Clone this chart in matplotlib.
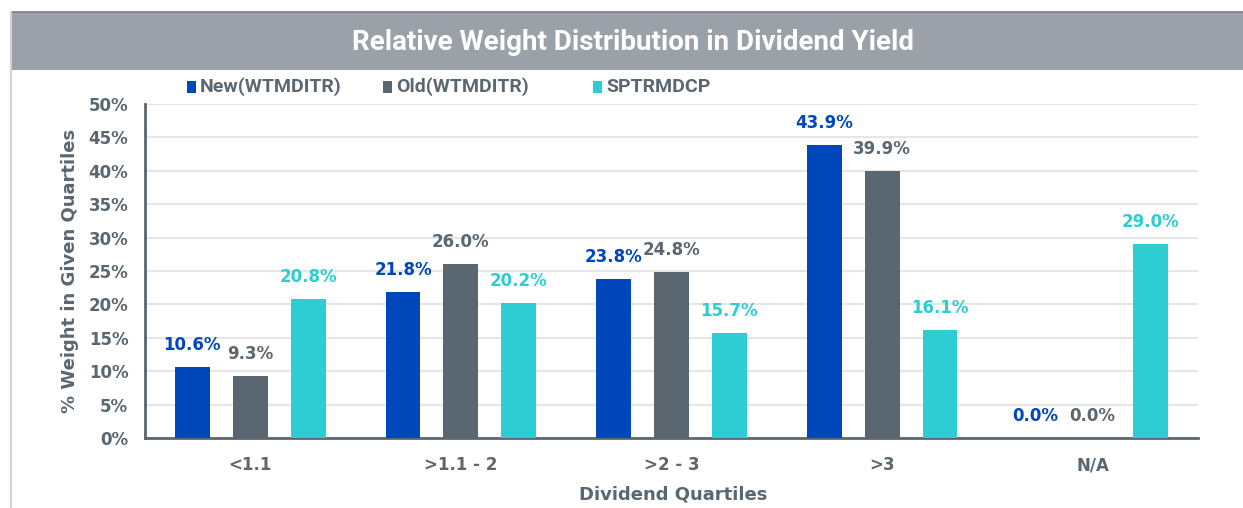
import matplotlib
matplotlib.use("Agg")
import matplotlib.pyplot as plt
from matplotlib.patches import Rectangle
from matplotlib.lines import Line2D
import numpy as np

categories = ["<1.1", ">1.1 - 2", ">2 - 3", ">3", "N/A"]
series_names = ["New(WTMDITR)", "Old(WTMDITR)", "SPTRMDCP"]
new_vals = [10.6, 21.8, 23.8, 43.9, 0.0]
old_vals = [9.3, 26.0, 24.8, 39.9, 0.0]
sp_vals = [20.8, 20.2, 15.7, 16.1, 29.0]
yticks = [0, 5, 10, 15, 20, 25, 30, 35, 40, 45, 50]

colors = ["#0047BB", "#5B6770", "#2ECCD3"]
text_gray = "#5B6770"
plt.rcParams['font.family'] = ['DejaVu Sans']
narrow = ['Liberation Sans Narrow', 'Roboto', 'DejaVu Sans']

W, H = 1243, 508
fig = plt.figure(figsize=(W/100, H/100), dpi=100)

# title band
fig.patches.append(Rectangle((12/W, 1-70/H), 1-12/W, 58/H, transform=fig.transFigure,
                             facecolor="#9BA1A8", edgecolor="none", zorder=0))
fig.lines.append(Line2D([12/W, 1], [1-12/H, 1-12/H], transform=fig.transFigure, color="#777C82", lw=1.2))
fig.lines.append(Line2D([11/W, 11/W], [0, 1-12/H], transform=fig.transFigure, color="#D0D3D6", lw=1.5))
fig.text(633/W, 1-42/H, "Relative Weight Distribution in Dividend Yield", ha="center", va="center",
         color="white", fontsize=20, fontweight="bold", family=narrow)

ax = fig.add_axes([145/W, 1-438/H, (1198-145)/W, (438-104)/H])
x = np.arange(len(categories))
off = 0.275
w = 0.166
all_vals = [new_vals, old_vals, sp_vals]
for i, (vals, c) in enumerate(zip(all_vals, colors)):
    pos = x + (i-1)*off
    ax.bar(pos, vals, width=w, color=c, zorder=3)
    for p, v in zip(pos, vals):
        ax.text(p, v + 3.3, f"{v:.1f}%", ha="center", va="center", color=c if i != 1 else text_gray,
                fontsize=12, fontweight="bold", zorder=4)

ax.set_xlim(-0.5, 4.5)
ax.set_ylim(0, 50)
ax.set_yticks(yticks)
ax.set_yticklabels([f"{t}%" for t in yticks])
ax.set_xticks(x)
ax.set_xticklabels(categories)
ax.tick_params(axis="both", length=0, labelsize=12, labelcolor=text_gray)
for lab in ax.get_xticklabels() + ax.get_yticklabels():
    lab.set_fontweight("bold")
ax.tick_params(axis="x", pad=13)
ax.tick_params(axis="y", pad=12)
ax.grid(axis="y", color="#E6E6E6", lw=1.5, zorder=0)
for s in ["top", "right"]:
    ax.spines[s].set_visible(False)
for s in ["left", "bottom"]:
    ax.spines[s].set_color(text_gray)
    ax.spines[s].set_linewidth(2)

fig.text(70/W, 1-271/H, "% Weight in Given Quartiles", rotation=90, ha="center", va="center",
         color=text_gray, fontsize=13, fontweight="bold")
fig.text(673/W, 1-494/H, "Dividend Quartiles", ha="center", va="center",
         color=text_gray, fontsize=13, fontweight="bold")

# legend
leg_x = [187, 383, 593]
for lx, name, c in zip(leg_x, series_names, colors):
    fig.patches.append(Rectangle((lx/W, 1-93/H), 9/W, 12/H, transform=fig.transFigure,
                                 facecolor=c, edgecolor="none"))
    fig.text((lx+13)/W, 1-87/H, name, ha="left", va="center", color=text_gray,
             fontsize=14, fontweight="bold", family=narrow)

fig.savefig("out.png", dpi=100)
